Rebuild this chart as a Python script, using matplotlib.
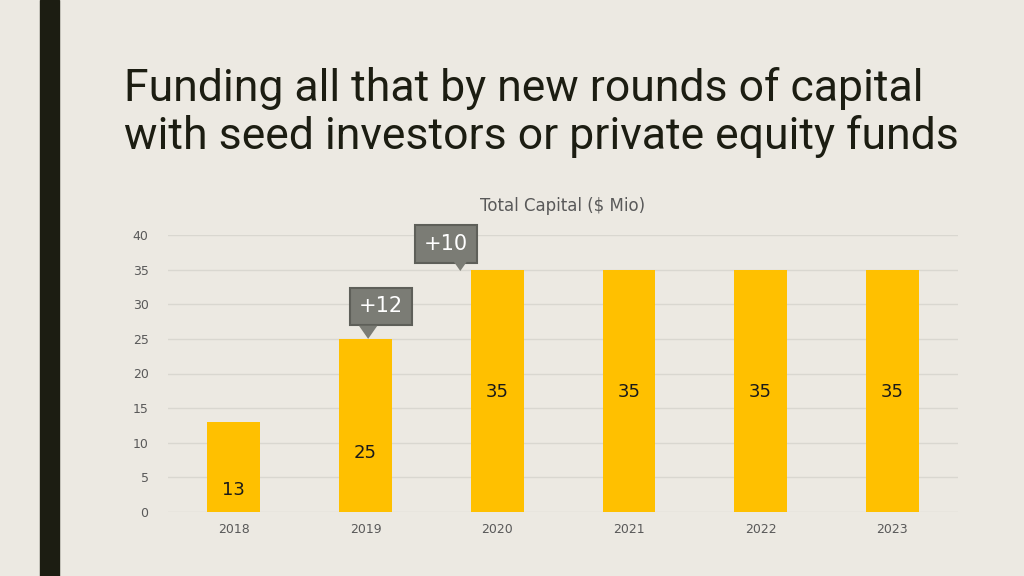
import matplotlib.pyplot as plt
from matplotlib.patches import Polygon, Rectangle

years = ["2018", "2019", "2020", "2021", "2022", "2023"]
capital = [13, 25, 35, 35, 35, 35]
label_heights = [3.2, 8.5, 17.4, 17.4, 17.4, 17.4]
# callouts: text, box centre (x, y), pointer tip (x, y)
callout_texts = ["+12", "+10"]
callout_boxes = [(1.12, 29.7), (1.61, 38.7)]
callout_tips = [(1.02, 25.0), (1.72, 34.8)]
title_lines = ["Funding all that by new rounds of capital",
               "with seed investors or private equity funds"]

BG = "#ECE9E2"
DARK = "#1C1D12"
GOLD = "#FFC000"
GRAY = "#595959"


def main():
    fig = plt.figure(figsize=(10.24, 5.76), dpi=100, facecolor=BG)

    # dark vertical stripe on the left
    fig.patches.append(Rectangle((40 / 1024, 0), 19 / 1024, 1, transform=fig.transFigure,
                                 color=DARK, zorder=0))

    for k, line in enumerate(title_lines):
        fig.text(124 / 1024, 1 - (101 + 48 * k) / 576, line,
                 fontsize=32, color=DARK, family="Roboto",
                 ha="left", va="baseline")

    ax = fig.add_axes([168 / 1024, 1 - 512 / 576, 790 / 1024, 277 / 576])
    ax.set_facecolor(BG)
    x = list(range(len(years)))
    ax.bar(x, capital, width=0.4, color=GOLD, zorder=2)
    for i, v in enumerate(capital):
        ax.text(i, label_heights[i], str(v), ha="center", va="center",
                fontsize=13, color="#1a1a1a", zorder=3)

    ax.set_xlim(-0.5, len(years) - 0.5)
    ax.set_ylim(0, 40)
    ax.set_yticks(range(0, 41, 5))
    ax.set_xticks(x)
    ax.set_xticklabels(years)
    ax.tick_params(length=0, colors=GRAY, labelsize=9)
    ax.tick_params(axis="y", pad=14)
    ax.tick_params(axis="x", pad=8)
    ax.grid(axis="y", color="#D9D7D0", linewidth=1, zorder=0)
    for s in ax.spines.values():
        s.set_visible(False)
    ax.set_title("Total Capital ($ Mio)", color=GRAY, fontsize=12, pad=17)

    for txt, (bx, by), (tx, ty) in zip(callout_texts, callout_boxes, callout_tips):
        ax.text(bx, by, txt, ha="center", va="center", fontsize=15, color="white", zorder=5,
                bbox=dict(boxstyle="square,pad=0.42", fc="#7B7C75", ec="#5E5F59", lw=1.5))
        tri = Polygon([(tx - 0.07, ty + 1.9), (tx + 0.07, ty + 1.9), (tx, ty)],
                      closed=True, fc="#7B7C75", ec="none", zorder=6, clip_on=False)
        ax.add_patch(tri)

    fig.savefig("out.png", dpi=100, facecolor=BG)


if __name__ == '__main__':
    main()
